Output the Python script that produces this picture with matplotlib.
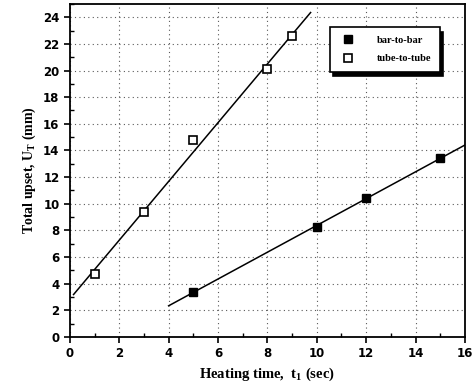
import numpy as np
import matplotlib.pyplot as plt
from matplotlib.ticker import MultipleLocator

# Datos
bar_x = [5, 10, 12, 15]
bar_y = [3.4, 8.25, 10.4, 13.45]
tube_x = [1, 3, 5, 8, 9]
tube_y = [4.7, 9.4, 14.8, 20.1, 22.6]

# Rango de las rectas de ajuste
bar_fit_range = [4, 16]
tube_fit_range = [0.15, 9.75]

x_ticks = [0, 2, 4, 6, 8, 10, 12, 14, 16]
y_ticks = [0, 2, 4, 6, 8, 10, 12, 14, 16, 18, 20, 22, 24]

fig = plt.figure(figsize=(4.72, 3.9), dpi=100)
ax = fig.add_axes([0.148, 0.136, 0.837, 0.854])

# Rectas de ajuste lineal
for xs, ys, rng in [(bar_x, bar_y, bar_fit_range), (tube_x, tube_y, tube_fit_range)]:
    k, b = np.polyfit(xs, ys, 1)
    xx = np.array(rng)
    ax.plot(xx, k * xx + b, color='black', lw=1.1, zorder=2)

ax.plot(bar_x, bar_y, 's', ms=5.5, mfc='black', mec='black', label='bar-to-bar', zorder=3)
ax.plot(tube_x, tube_y, 's', ms=5.5, mfc='white', mec='black', mew=1.2, label='tube-to-tube', zorder=3)

ax.set_xlim(0, 16)
ax.set_ylim(0, 25)
ax.set_xticks(x_ticks)
ax.set_yticks(y_ticks)
ax.xaxis.set_minor_locator(MultipleLocator(1))
ax.yaxis.set_minor_locator(MultipleLocator(1))
ax.tick_params(which='major', direction='out', length=4, width=1.2)
ax.tick_params(which='minor', direction='in', length=3, width=1)
tick_font = ['Liberation Sans Narrow', 'DejaVu Sans']
for lab in ax.get_xticklabels() + ax.get_yticklabels():
    lab.set_family(tick_font)
    lab.set_fontweight('bold')
    lab.set_fontsize(8.5)

ax.grid(True, which='major', linestyle=(0, (1, 3)), color='0.35', lw=0.8)
for s in ax.spines.values():
    s.set_linewidth(1.3)

ax.set_xlabel(r'Heating time,  t$_\mathregular{1}$ (sec)', family='Liberation Serif',
              fontweight='bold', fontsize=10.5)
ax.set_ylabel(r'Total upset, U$_\mathregular{T}$ (mm)', family='Liberation Serif',
              fontweight='bold', fontsize=10)

leg = ax.legend(loc='upper right', bbox_to_anchor=(0.95, 0.945), frameon=True,
                fancybox=False, shadow={'color': 'black', 'alpha': 1, 'ox': 2, 'oy': -3},
                prop={'family': 'Liberation Serif', 'weight': 'bold', 'size': 7.5},
                borderpad=0.8, labelspacing=0.85, handletextpad=1.9, handlelength=1.8)
leg.get_frame().set_edgecolor('black')
leg.get_frame().set_linewidth(1.2)

fig.savefig('out.png', dpi=100)
